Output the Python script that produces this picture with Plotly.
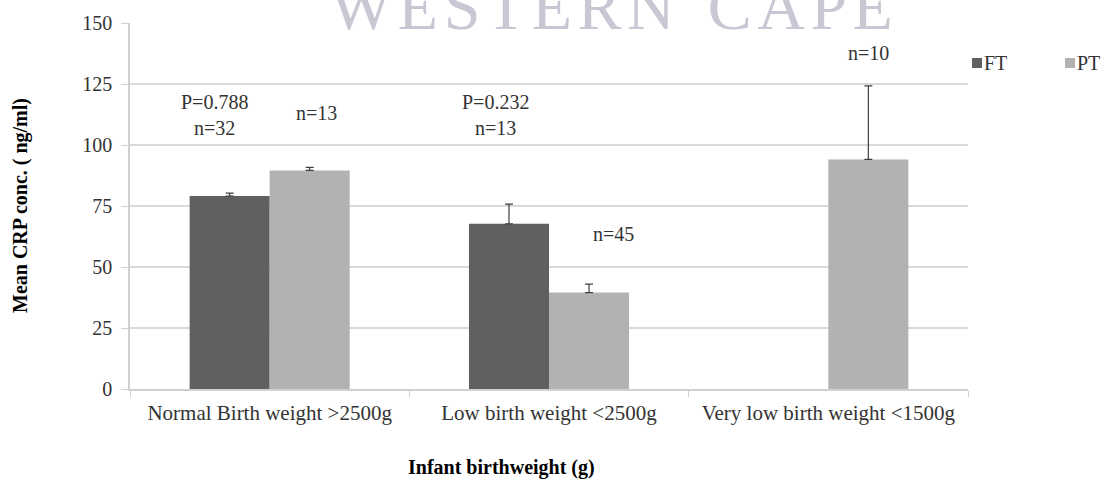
import plotly.graph_objects as go

categories = ["Normal Birth weight >2500g", "Low birth weight <2500g", "Very low birth weight <1500g"]
ft_values = [79.1, 67.7, None]
ft_errors = [1.2, 8.1, 0]
pt_values = [89.6, 39.5, 94.1]
pt_errors = [1.2, 3.5, 30.1]

ann_texts = ["P=0.788<br>n=32", "n=13", "P=0.232<br>n=13", "n=45", "n=10"]
ann_cats = [categories[0], categories[0], categories[1], categories[1], categories[2]]
ann_y = [112.3, 113.2, 112.3, 63.5, 137.6]
ann_shift = [-55, 47, -54, 64, 40]

series_names = ["FT", "PT"]
series_colors = ["#606060", "#b2b2b2"]

FONT = "Liberation Serif"
TXT = "#333333"

# plot area in pixels
L, R, T, B = 130, 968, 23, 389
PW, PH = R - L, B - T


def px(xp):
    return (xp - L) / PW


def py(yp):
    return (B - yp) / PH


fig = go.Figure()
for name, vals, errs, col in zip(series_names, [ft_values, pt_values], [ft_errors, pt_errors], series_colors):
    fig.add_trace(go.Bar(
        name=name, x=categories, y=vals, marker=dict(color=col, line=dict(width=0)),
        showlegend=False,
        error_y=dict(type="data", array=errs, arrayminus=[0, 0, 0], symmetric=False,
                     color="#404040", thickness=1.2, width=4),
    ))

annotations = []

# watermark (drawn first so chart texts sit above it)
hs = "\u200a"
annotations.append(dict(text=hs.join("WESTERN") + "\u00a0\u00a0" + hs.join("CAPE"),
                        xref="paper", yref="paper", x=px(611), y=py(45), showarrow=False,
                        font=dict(family=FONT, size=66, color="#c8c8d4"),
                        xanchor="center", yanchor="bottom"))

for t, c, yv, s in zip(ann_texts, ann_cats, ann_y, ann_shift):
    annotations.append(dict(text=t, x=c, y=yv, xref="x", yref="y", xshift=s, showarrow=False,
                            font=dict(family=FONT, size=20, color=TXT), align="center"))

annotations.append(dict(text="Mean CRP conc. ( ng/ml)", xref="paper", yref="paper",
                        x=px(20), y=0.5, textangle=-90, showarrow=False,
                        font=dict(family=FONT, size=20, color="#000000", weight="bold"),
                        xanchor="center", yanchor="middle"))
annotations.append(dict(text="Infant birthweight (g)", xref="paper", yref="paper",
                        x=px(501), y=py(468), showarrow=False,
                        font=dict(family=FONT, size=20, color="#000000", weight="bold"),
                        xanchor="center", yanchor="middle"))

# legend (manual)
shapes = []
leg_sq_x = [972, 1065]
for name, col, sx in zip(series_names, series_colors, leg_sq_x):
    shapes.append(dict(type="rect", xref="paper", yref="paper",
                       x0=px(sx), x1=px(sx + 10), y0=py(68), y1=py(58),
                       fillcolor=col, line=dict(width=0)))
    annotations.append(dict(text=name, xref="paper", yref="paper", x=px(sx + 10), y=py(63),
                            xanchor="left", yanchor="middle", showarrow=False,
                            font=dict(family=FONT, size=20, color=TXT)))

fig.update_layout(
    width=1109, height=481,
    margin=dict(l=L, r=1109 - R, t=T, b=481 - B, autoexpand=False),
    paper_bgcolor="white", plot_bgcolor="white",
    barmode="group", bargap=0.427, bargroupgap=0,
    font=dict(family=FONT, size=20, color=TXT),
    showlegend=False,
    annotations=annotations,
    shapes=shapes,
)
fig.update_xaxes(showline=True, linecolor="#d0d0d0", linewidth=1.5, ticks="outside",
                 tickson="boundaries", ticklen=6, tickcolor="#d0d0d0", showgrid=False,
                 tickangle=0, automargin=False, ticklabelstandoff=4,
                 tickfont=dict(family=FONT, size=21, color=TXT))
fig.update_yaxes(range=[0, 150], dtick=25, showline=True, linecolor="#d0d0d0", linewidth=1.5,
                 ticks="outside", ticklen=7, tickcolor="#d0d0d0", gridcolor="#d9d9d9", gridwidth=1.5,
                 zeroline=False, ticklabelstandoff=5, automargin=False,
                 tickfont=dict(family=FONT, size=20, color=TXT))

fig.write_html("out.html", config={"displayModeBar": False},
               post_script="document.body.style.margin='0';")
